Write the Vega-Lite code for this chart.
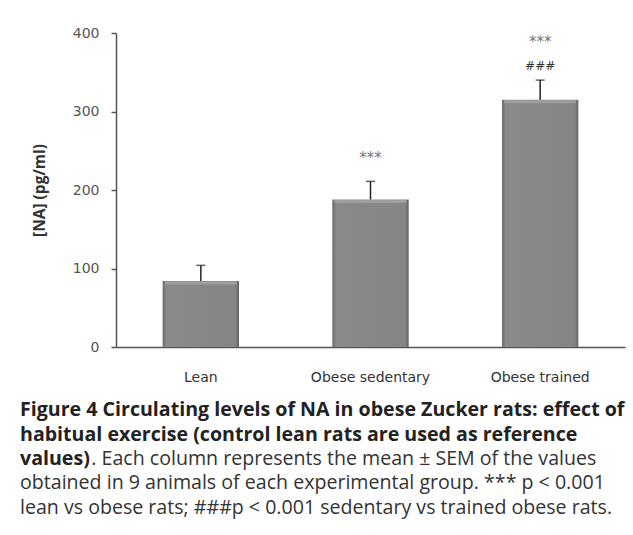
{
  "$schema": "https://vega.github.io/schema/vega-lite/v6.json",
  "width": 509,
  "height": 314,
  "autosize": {"type": "none"},
  "padding": {"left": 116, "top": 33, "right": 8, "bottom": 188},
  "background": "white",
  "config": {"view": {"stroke": null}, "font": "DejaVu Sans"},
  "title": {
    "text": ["Figure 4 Circulating levels of NA in obese Zucker rats: effect of", "habitual exercise (control lean rats are used as reference", "values)"],
    "subtitle": ["\u200b\u00a0\u00a0\u00a0\u00a0\u00a0\u00a0\u00a0\u00a0\u00a0\u00a0\u00a0\u00a0\u00a0\u00a0. Each column represents the mean ± SEM of the values", "obtained in 9 animals of each experimental group. *** p < 0.001", "lean vs obese rats; ###p < 0.001 sedentary vs trained obese rats."],
    "orient": "bottom",
    "anchor": "start",
    "frame": "group",
    "dx": -96,
    "offset": 17,
    "font": "Open Sans",
    "fontSize": 19.6,
    "fontWeight": "bold",
    "color": "#222222",
    "lineHeight": 24.5,
    "subtitleFont": "Open Sans",
    "subtitleFontSize": 19.6,
    "subtitleColor": "#333333",
    "subtitleLineHeight": 24.5,
    "subtitlePadding": -20
  },
  "datasets": {
    "bars": [
      {"group": "Lean", "mean": 84, "upper": 104},
      {"group": "Obese sedentary", "mean": 188, "upper": 211},
      {"group": "Obese trained", "mean": 315, "upper": 340}
    ],
    "annot": [
      {"group": "Obese sedentary", "label": "***", "pos": 241},
      {"group": "Obese trained", "label": "***", "pos": 389},
      {"group": "Obese trained", "label": "###", "pos": 358}
    ]
  },
  "encoding": {
    "x": {
      "field": "group",
      "type": "nominal",
      "sort": ["Lean", "Obese sedentary", "Obese trained"],
      "scale": {"paddingInner": 0.55, "paddingOuter": 0.275},
      "axis": {
        "title": null,
        "labelAngle": 0,
        "ticks": false,
        "labelPadding": 23,
        "labelFont": "DejaVu Sans",
        "labelFontSize": 14,
        "labelColor": "#333333",
        "domainColor": "#555555",
        "domainWidth": 1.5
      }
    }
  },
  "layer": [
    {
      "data": {"name": "bars"},
      "mark": {
        "type": "bar",
        "color": {
          "gradient": "linear",
          "x1": 0, "y1": 0, "x2": 1, "y2": 0,
          "stops": [
            {"offset": 0, "color": "#6a6a6a"},
            {"offset": 0.05, "color": "#8a8a8a"},
            {"offset": 0.5, "color": "#878787"},
            {"offset": 0.95, "color": "#858585"},
            {"offset": 1, "color": "#606060"}
          ]
        }
      },
      "encoding": {
        "y": {
          "field": "mean",
          "type": "quantitative",
          "scale": {"domain": [0, 400], "nice": false},
          "axis": {
            "title": "[NA] (pg/ml)",
            "titleFont": "Open Sans",
            "titleFontSize": 15.5,
            "titleFontWeight": "bold",
            "titleColor": "#333333",
            "titlePadding": 25,
            "values": [0, 100, 200, 300, 400],
            "grid": false,
            "tickSize": 5,
            "tickColor": "#555555",
            "tickWidth": 1.5,
            "domainColor": "#555555",
            "domainWidth": 1.5,
            "labelPadding": 12,
            "labelFont": "DejaVu Sans",
            "labelFontSize": 14,
            "labelColor": "#555555"
          }
        }
      }
    },
    {
      "data": {"name": "bars"},
      "mark": {"type": "tick", "color": "#a8a8a8", "thickness": 3, "size": 72, "yOffset": 2},
      "encoding": {"y": {"field": "mean", "type": "quantitative"}}
    },
    {
      "data": {"name": "bars"},
      "mark": {"type": "rule", "color": "#222222", "strokeWidth": 1.5},
      "encoding": {
        "y": {"field": "mean", "type": "quantitative"},
        "y2": {"field": "upper"}
      }
    },
    {
      "data": {"name": "bars"},
      "mark": {"type": "tick", "color": "#222222", "thickness": 1.5, "size": 9},
      "encoding": {"y": {"field": "upper", "type": "quantitative"}}
    },
    {
      "data": {"name": "annot"},
      "mark": {"type": "text", "font": "DejaVu Sans", "fontSize": 13, "baseline": "middle"},
      "encoding": {
        "y": {"field": "pos", "type": "quantitative"},
        "text": {"field": "label"},
        "color": {"field": "label", "type": "nominal", "scale": {"domain": ["***", "###"], "range": ["#777777", "#333333"]}, "legend": null},
        "size": {"field": "label", "type": "nominal", "scale": {"domain": ["***", "###"], "range": [15, 12]}, "legend": null}
      }
    }
  ]
}
